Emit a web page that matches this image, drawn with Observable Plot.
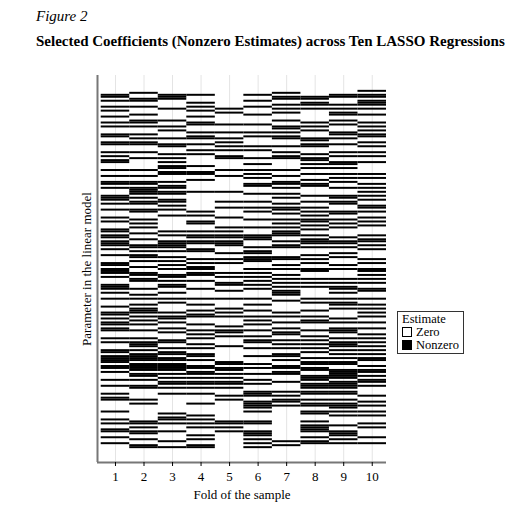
<!DOCTYPE html>
<html><head><meta charset="utf-8">
<script src="https://cdn.jsdelivr.net/npm/d3@7"></script>
<script src="https://cdn.jsdelivr.net/npm/@observablehq/plot@0.6"></script>
<style>
body{margin:0;background:#fff;font-family:"Liberation Serif","DejaVu Serif",serif;}
#wrap{position:relative;width:529px;height:511px;}
.fig{position:absolute;left:36px;top:8px;font-style:italic;font-size:15px;}
.ttl{position:absolute;left:36px;top:33px;font-weight:bold;font-size:15px;}
#chart{position:absolute;left:0;top:60px;}
.leg{position:absolute;left:397px;top:311px;border:1px solid #333;padding:1px 4px 1px 4px;font-size:12.5px;line-height:13px;background:#fff;}
.leg span{display:inline-block;width:8px;height:8px;border:1px solid #000;margin-right:4px;vertical-align:-1px;}
</style></head>
<body><div id="wrap">
<div class="fig">Figure 2</div>
<div class="ttl">Selected Coefficients (Nonzero Estimates) across Ten LASSO Regressions</div>
<div id="chart"></div>
<div class="leg">Estimate<br><span></span>Zero<br><span style="background:#000"></span>Nonzero</div>
</div>
<script>
// folds and selection pattern (1 = nonzero estimate), one string per fold, rows top to bottom
const folds = [1,2,3,4,5,6,7,8,9,10];
const selection = [
 "0011010010100100101000110011000101011000100100110100011101001000101000110110111010010001101110100011101001000100110101101100010100011011110110100010010001011000001000101001100100100",
 "0100110010001001101000101011000100100000100100110111101011001100010101001001001101011010010011011000100101001011101010100100010111010111101111011010011000001010000000011010110010011",
 "0011100001000001001010001001100010101011011000101101100110101001000000010100111101001010101001101011001001010000101101001010001100101101101111010101101001000000000101101000100001001",
 "0010001010100100110001011001001010000010011001000001000000000101001100010110110011000101011011001000100001001001011000100101010010100110100110110101101001000010000010101010001010011",
 "0000000001010000010001001010101001100000100100000001000010010000100001010110111000100101000010100110010001000010101000010110100001000000011011010101101000101000000000011010100000000",
 "0010010010001000010001010000101000100100101010011000100010010100010001000111000101101110001010101010100001001001001010100100101100100010001010010010100011100111101000011000111010101",
 "0101100101010001001101011000100101100000100100110100101001011010010101011100101100001100101001010101011100100000101001001011001010100110100110110001000010101101000000000000000001010",
 "0001101101000000101010001101100010110101001001011000010010010101011010100101110100010101001100010101000001010001001011000100101010101001011011001110111011001011001100010111100101100",
 "0011000101011001010001101001000101001101001010100100011011000110010101000010110100101000101000010101101001011010000101001110010111010101011001111101111011001011101010000100111010100",
 "1011011101001000101010110010100101001000001010010101010100110100101010000101101010000101001101010100110001001010101001001001010101010101100101101011010000100101001010001010000100100"
];
const rows = d3.range(selection[0].length);
const cells = [];
folds.forEach((f, i) => rows.forEach(r => cells.push({fold: f, row: r, on: selection[i][r] === "1"})));

const chart = Plot.plot({
  width: 400, height: 445,
  marginLeft: 97, marginRight: 14, marginTop: 15, marginBottom: 43,
  style: {fontFamily: "Liberation Serif, DejaVu Serif, serif", fontSize: "13px", color: "#000"},
  x: {domain: [0.37, 10.5]},
  y: {domain: [rows.length + 7, -7.5]},
  marks: [
    Plot.ruleX(folds, {stroke: "#e4e4e4"}),
    Plot.rect(cells.filter(d => d.on), {x1: d => d.fold - 0.5, x2: d => d.fold + 0.5, y1: "row", y2: d => d.row + 1, fill: "#000"}),
    Plot.ruleX([0.37], {stroke: "#777", strokeWidth: 2}),
    Plot.ruleY([rows.length + 7], {stroke: "#777", strokeWidth: 2}),
    Plot.axisX(folds, {tickSize: 4, tickFormat: d => d, label: "Fold of the sample", labelAnchor: "center", labelArrow: "none", labelOffset: 36, fontSize: 13}),
    Plot.axisY({ticks: [], label: "Parameter in the linear model", labelAnchor: "center", labelArrow: "none", labelOffset: 16, fontSize: 13})
  ]
});
document.getElementById("chart").append(chart);
</script>
</body></html>
